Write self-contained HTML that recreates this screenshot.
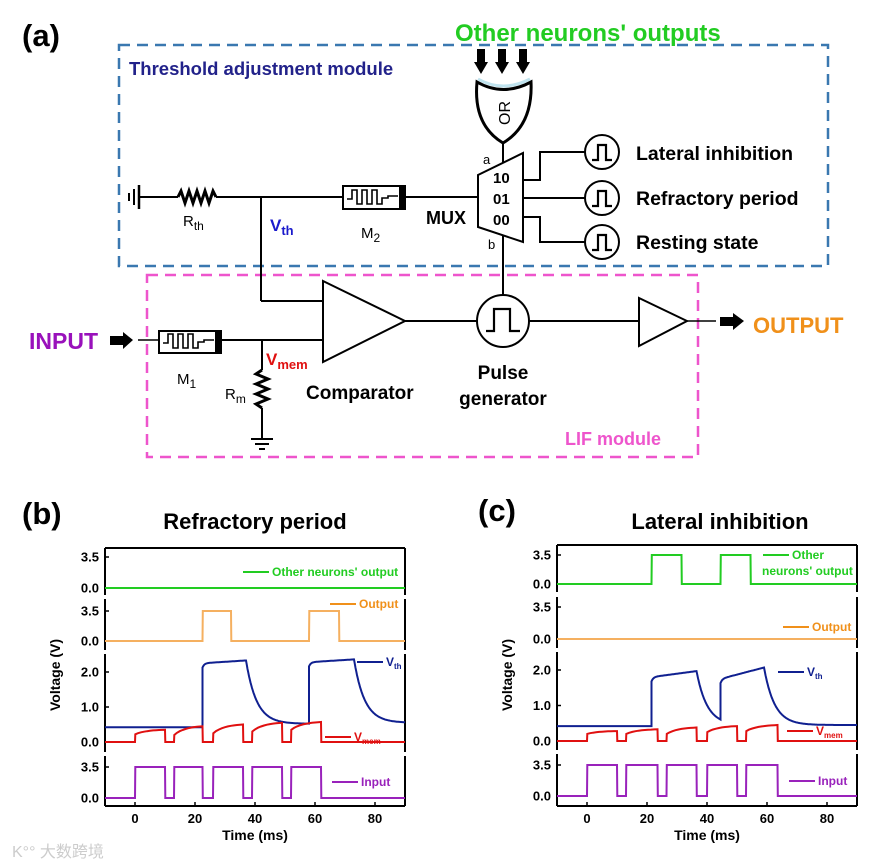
<!DOCTYPE html>
<html><head><meta charset="utf-8"><style>
html,body{margin:0;padding:0;background:#fff;}
svg{display:block;font-family:"Liberation Sans",Arial,sans-serif;}
</style></head><body>
<svg id="s" width="885" height="866" viewBox="0 0 885 866" xmlns="http://www.w3.org/2000/svg">
<rect width="885" height="866" fill="#fff"/>
<text x="22" y="46" font-size="31" font-weight="bold">(a)</text>
<text x="455" y="41" font-size="24" font-weight="bold" fill="#22cc22">Other neurons' outputs</text>
<rect x="119" y="45" width="709" height="221" fill="none" stroke="#3a78b0" stroke-width="2.5" stroke-dasharray="11,7"/>
<rect x="147" y="275" width="551" height="182" fill="none" stroke="#ee55cc" stroke-width="2.5" stroke-dasharray="11,7"/>
<text x="129" y="75" font-size="18.5" font-weight="bold" fill="#22228a">Threshold adjustment module</text>
<text x="565" y="445" font-size="18" font-weight="bold" fill="#ee55cc">LIF module</text>

<g stroke="#000" stroke-width="2" fill="none">
<line x1="129" y1="193" x2="129" y2="201"/>
<line x1="134" y1="189" x2="134" y2="205"/>
<line x1="139" y1="185" x2="139" y2="209" stroke-width="2.5"/>
<line x1="139" y1="197" x2="178" y2="197"/>
<polyline points="178,197 181,191 185,203 189,191 193,203 197,191 201,203 205,191 209,203 213,191 216,197" stroke-width="3"/>
<line x1="216" y1="197" x2="343" y2="197"/>
<rect x="343" y="186" width="62" height="23" stroke-width="2"/>
<polyline points="347,199 352,199 352,190 357,190 357,204 362,204 362,190 367,190 367,204 372,204 372,190 377,190 377,204 382,204 382,198 388,198 388,196 398,196" stroke-width="1.6"/>
<line x1="405" y1="197" x2="478" y2="197"/>
<line x1="261" y1="197" x2="261" y2="301"/>
<line x1="261" y1="301" x2="323" y2="301"/>
<polygon points="478,175 523,153 523,242 478,227"/>
<line x1="503" y1="143" x2="503" y2="163"/>
<line x1="503" y1="235" x2="503" y2="295"/>
<polyline points="523,180 540,180 540,152 585,152"/>
<line x1="523" y1="198" x2="585" y2="198"/>
<polyline points="523,217 540,217 540,242 585,242"/>
<circle cx="602" cy="152" r="17"/>
<circle cx="602" cy="198" r="17"/>
<circle cx="602" cy="242" r="17"/>
<polyline points="592,160 598,160 598,145 606,145 606,160 612,160" stroke-width="2.2"/>
<polyline points="592,206 598,206 598,191 606,191 606,206 612,206" stroke-width="2.2"/>
<polyline points="592,250 598,250 598,235 606,235 606,250 612,250" stroke-width="2.2"/>
<path d="M477,82 Q503,97 531,82 Q533,125 503,143 Q473,125 477,82 Z" stroke-width="3"/>
<polygon points="323,281 405,321 323,362"/>
<line x1="138" y1="340" x2="159" y2="340" stroke-width="1.5"/>
<rect x="159" y="331" width="62" height="22"/>
<polyline points="163,343 168,343 168,334 173,334 173,348 178,348 178,334 183,334 183,348 188,348 188,334 193,334 193,348 198,348 198,342 204,342 204,340 214,340" stroke-width="1.6"/>
<line x1="221" y1="340" x2="323" y2="340"/>
<line x1="262" y1="340" x2="262" y2="370"/>
<polyline points="262,370 256,374 268,379 256,384 268,389 256,394 268,399 256,404 262,408" stroke-width="3"/>
<line x1="262" y1="408" x2="262" y2="438"/>
<line x1="251" y1="439" x2="273" y2="439"/>
<line x1="255" y1="444" x2="269" y2="444"/>
<line x1="259" y1="449" x2="265" y2="449"/>
<line x1="405" y1="321" x2="477" y2="321"/>
<circle cx="503" cy="321" r="26"/>
<polyline points="486,331 494,331 494,309 510,309 510,331 520,331" stroke-width="2.2"/>
<line x1="529" y1="321" x2="639" y2="321"/>
<polygon points="639,298 687,321 639,346"/>
<line x1="687" y1="321" x2="716" y2="321" stroke-width="1.5"/>
</g>
<rect x="399" y="186" width="6" height="23" fill="#000"/>
<rect x="215" y="331" width="6" height="22" fill="#000"/>
<g fill="#000">
<rect x="477" y="49" width="8" height="14"/><polygon points="474,62 488,62 481,74"/>
<rect x="498" y="49" width="8" height="14"/><polygon points="495,62 509,62 502,74"/>
<rect x="519" y="49" width="8" height="14"/><polygon points="516,62 530,62 523,74"/>
<rect x="110" y="336" width="14" height="9"/><polygon points="123,332 123,349 133,340"/>
<rect x="720" y="317" width="14" height="9"/><polygon points="733,313 733,330 744,321"/>
</g>
<path d="M478,82 Q503,96 530,82" stroke="#bfe3ee" stroke-width="3" fill="none" transform="translate(0,-3)"/>
<text x="0" y="0" font-size="16" transform="translate(510,113) rotate(-90)" text-anchor="middle">OR</text>
<g font-size="15">
<text x="183" y="226">R<tspan font-size="12" dy="4">th</tspan></text>
<text x="361" y="238">M<tspan font-size="12" dy="4">2</tspan></text>
<text x="177" y="384">M<tspan font-size="12" dy="4">1</tspan></text>
<text x="225" y="399">R<tspan font-size="12" dy="4">m</tspan></text>
<text x="483" y="164" font-size="13">a</text>
<text x="488" y="249" font-size="13">b</text>
</g>
<text x="270" y="231" font-size="17" font-weight="bold" fill="#1a1acc">V<tspan font-size="13" dy="4">th</tspan></text>
<text x="266" y="365" font-size="17" font-weight="bold" fill="#e01010">V<tspan font-size="13" dy="4">mem</tspan></text>
<g font-weight="bold" font-size="15">
<text x="493" y="183">10</text><text x="493" y="204">01</text><text x="493" y="225">00</text>
</g>
<text x="426" y="224" font-size="18" font-weight="bold">MUX</text>
<g font-size="19.5" font-weight="bold">
<text x="636" y="160">Lateral inhibition</text>
<text x="636" y="205">Refractory period</text>
<text x="636" y="249">Resting state</text>
</g>
<text x="29" y="349" font-size="23" font-weight="bold" fill="#9911bb">INPUT</text>
<text x="753" y="333" font-size="22" font-weight="bold" fill="#f0901a">OUTPUT</text>
<text x="306" y="399" font-size="19" font-weight="bold">Comparator</text>
<text x="503" y="379" font-size="19" font-weight="bold" text-anchor="middle">Pulse</text>
<text x="503" y="405" font-size="19" font-weight="bold" text-anchor="middle">generator</text>

<text x="22" y="524" font-size="31" font-weight="bold">(b)</text>
<text x="255" y="529" font-size="22" font-weight="bold" text-anchor="middle">Refractory period</text>
<text x="478" y="521" font-size="31" font-weight="bold">(c)</text>
<text x="720" y="529" font-size="22" font-weight="bold" text-anchor="middle">Lateral inhibition</text>
<text x="12" y="857" font-size="16" fill="#ccc">K°° 大数跨境</text>
<g id="plots"></g>
</svg>
<script>
var g=document.getElementById('plots'),h='';
function P(x0,subs,lx){
 var tx=function(t){return x0+3*t;};
 var L=tx(-10),R=tx(90);
 subs.forEach(function(s){
  h+='<line x1="'+L+'" y1="'+s.top+'" x2="'+L+'" y2="'+s.bot+'" stroke="#000" stroke-width="2"/>';
  h+='<line x1="'+R+'" y1="'+s.top+'" x2="'+R+'" y2="'+s.bot+'" stroke="#000" stroke-width="2"/>';
  s.ticks.forEach(function(t){var y=s.y(t);h+='<line x1="'+L+'" y1="'+y+'" x2="'+(L+4)+'" y2="'+y+'" stroke="#000" stroke-width="1.5"/><text x="'+(L-6)+'" y="'+(y+4.5)+'" font-size="13" font-weight="bold" text-anchor="end">'+t.toFixed(1)+'</text>';});
  s.curves.forEach(function(c){var d='';c.pts.forEach(function(p,i){var t=Math.max(-10,Math.min(90,p[0]));d+=(i?'L':'M')+tx(t).toFixed(1)+','+s.y(p[1]).toFixed(1);});h+='<path d="'+d+'" fill="none" stroke="'+c.col+'" stroke-width="2"/>';});
  s.leg.forEach(function(l){h+='<line x1="'+l[0]+'" y1="'+l[1]+'" x2="'+(l[0]+26)+'" y2="'+l[1]+'" stroke="'+l[3]+'" stroke-width="2"/><text x="'+(l[0]+29)+'" y="'+(l[1]+4)+'" font-size="12" font-weight="bold" fill="'+l[3]+'">'+l[2]+'</text>';});
 });
 h+='<line x1="'+L+'" y1="'+subs[0].top+'" x2="'+R+'" y2="'+subs[0].top+'" stroke="#000" stroke-width="2"/>';
 var B=subs[3].bot;
 h+='<line x1="'+L+'" y1="'+B+'" x2="'+R+'" y2="'+B+'" stroke="#000" stroke-width="2"/>';
 [0,20,40,60,80].forEach(function(t){h+='<line x1="'+tx(t)+'" y1="'+B+'" x2="'+tx(t)+'" y2="'+(B-4)+'" stroke="#000" stroke-width="1.5"/><text x="'+tx(t)+'" y="'+(B+17)+'" font-size="13" font-weight="bold" text-anchor="middle">'+t+'</text>';});
 h+='<text x="'+tx(40)+'" y="'+(B+34)+'" font-size="14" font-weight="bold" text-anchor="middle">Time (ms)</text>';
 h+='<text transform="translate('+lx+',675) rotate(-90)" font-size="14" font-weight="bold" text-anchor="middle">Voltage (V)</text>';
}
function pulses(ps,hi){var a=[[-10,0]];ps.forEach(function(p){a.push([p[0],0],[p[0]+0.1,hi],[p[1],hi],[p[1]+0.1,0]);});a.push([90,0]);return a;}
function vmem(ps){var a=[[-10,0]];ps.forEach(function(p){a.push([p[0],0],[p[0]+0.1,p[2]]);for(var i=1;i<=10;i++){var f=i/10;a.push([p[0]+(p[1]-p[0])*f,p[2]+(p[3]-p[2])*(1-Math.exp(-2.5*f))/(1-Math.exp(-2.5))]);}a.push([p[1]+0.1,0]);});a.push([90,0]);return a;}
// segs: [start, jumpV, highEnd, end, target]
function vth(base,segs){
 var a=[];
 function f(t){
  var v=base;
  for(var i=0;i<segs.length;i++){var s=segs[i];
   if(t<s[0])break;
   if(t<=s[3]){var r=(t-s[0]);var lin=s[1]+(s[2]-s[1])*(t-s[0])/(s[3]-s[0]);v=lin-0.12*Math.exp(-r/0.6);}
   else{v=s[4]+(s[2]-s[4])*Math.exp(-(t-s[3])/3.5);}
  }
  return v;}
 for(var t=-10;t<=90.001;t+=0.25){
  for(var i=0;i<segs.length;i++){if(Math.abs(t-segs[i][0])<0.13){a.push([t,f(t-0.01)]);}}
  a.push([t,f(t)]);
 }
 return a;}
var G='#22cc22',O='#f5b060',B='#102090',Rd='#e01010',Pu='#9922bb';
function ys(z,h,m){return function(v){return z-v*h/m;};}
P(135,[
 {top:548,bot:595,y:ys(588,31,3.5),ticks:[0,3.5],curves:[{col:G,pts:[[-10,0],[90,0]]}],leg:[[243,572,"Other neurons' output",G]]},
 {top:599,bot:650,y:ys(641,30,3.5),ticks:[0,3.5],curves:[{col:O,pts:pulses([[22.5,32],[58,68]],3.5)}],leg:[[330,604,"Output",'#f0901a']]},
 {top:654,bot:752,y:ys(742,35,1),ticks:[0,1,2],curves:[{col:B,pts:vth(0.42,[[22.5,2.25,2.33,37,0.52],[58,2.28,2.36,73,0.55]])},{col:Rd,pts:vmem([[0,10,0.22,0.35],[13,22.5,0.2,0.45],[26,36,0.25,0.5],[39,49,0.3,0.55],[52,62,0.35,0.57]])}],leg:[[357,662,"V<tspan font-size='8' dy='3'>th</tspan>",B],[325,737,"V<tspan font-size='8' dy='3'>mem</tspan>",Rd]]},
 {top:756,bot:806,y:ys(798,31,3.5),ticks:[0,3.5],curves:[{col:Pu,pts:pulses([[0,10],[13,22.5],[26,36],[39,49],[52,62]],3.5)}],leg:[[332,782,"Input",Pu]]}
],60);
P(587,[
 {top:545,bot:592,y:ys(584,29,3.5),ticks:[0,3.5],curves:[{col:G,pts:pulses([[21.5,31.5],[44.5,54.5]],3.5)}],leg:[[763,555,"Other",G]]},
 {top:597,bot:648,y:ys(639,32,3.5),ticks:[0,3.5],curves:[{col:O,pts:[[-10,0],[90,0]]}],leg:[[783,627,"Output",'#f0901a']]},
 {top:652,bot:750,y:ys(741,35.5,1),ticks:[0,1,2],curves:[{col:B,pts:vth(0.42,[[21.5,1.8,1.97,36.5,0.45],[44.5,1.75,2.07,59,0.45]])},{col:Rd,pts:vmem([[0,10,0.2,0.28],[13,23.5,0.2,0.33],[26.5,36.5,0.2,0.38],[40,50,0.25,0.42],[53,63.5,0.28,0.45]])}],leg:[[778,672,"V<tspan font-size='8' dy='3'>th</tspan>",B],[787,731,"V<tspan font-size='8' dy='3'>mem</tspan>",Rd]]},
 {top:754,bot:806,y:ys(796,31,3.5),ticks:[0,3.5],curves:[{col:Pu,pts:pulses([[0,10],[13,23.5],[26.5,36.5],[40,50],[53,63.5]],3.5)}],leg:[[789,781,"Input",Pu]]}
],512);
h+='<text x="762" y="575" font-size="12" font-weight="bold" fill="'+G+'">neurons\' output</text>';
g.innerHTML=h;
</script>
</body></html>
